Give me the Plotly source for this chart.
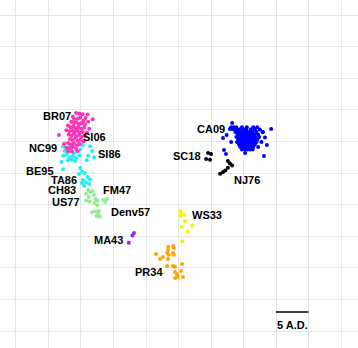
import plotly.graph_objects as go

# Antigenic map coordinates (1 grid unit)
magenta_x = [1.85,1.95,2.05,2.20,2.36,2.14,1.75,1.80,1.90,1.98,2.08,1.70,1.78,1.86,1.94,2.02,2.12,2.22,
             1.60,1.68,1.76,1.84,1.92,2.00,2.10,2.25,1.55,1.65,1.73,1.81,1.89,1.97,2.05,2.18,
             1.32,1.62,1.70,1.78,1.86,1.94,2.02,2.12,1.66,1.74,1.82,1.90,1.98,2.08,
             1.48,1.60,1.70,1.78,1.88,1.96,1.55,1.65,1.75,1.85,1.60,1.72,1.90]
magenta_y = [6.90,6.88,6.86,6.85,6.70,6.74,6.78,6.70,6.72,6.76,6.66,6.62,6.58,6.60,6.55,6.58,6.54,6.62,
             6.50,6.45,6.48,6.42,6.46,6.40,6.44,6.40,6.35,6.32,6.36,6.30,6.34,6.28,6.30,6.28,
             6.20,6.22,6.18,6.24,6.16,6.20,6.14,6.18,6.08,6.04,6.10,6.02,6.06,6.00,
             5.92,5.95,5.90,5.94,5.88,5.92,5.80,5.78,5.82,5.76,5.70,5.68,5.70]

cyan_x = [1.45,1.55,1.65,1.80,1.95,2.05,1.50,1.60,1.70,1.78,1.88,1.98,1.45,1.55,1.65,1.75,1.85,1.95,
          1.40,1.60,1.72,1.82,2.28,2.34,2.22,2.40,2.18,1.45,
          1.98,2.03,1.94,2.12,2.20,2.28,2.06,2.15,2.03,2.10,2.25]
cyan_y = [5.85,5.80,5.86,5.90,5.92,5.88,5.70,5.65,5.72,5.62,5.68,5.74,5.55,5.58,5.50,5.54,5.48,5.56,
          5.35,5.40,5.42,5.38,5.85,5.70,5.55,5.50,5.40,5.12,
          5.16,5.04,4.97,5.00,4.87,4.80,4.78,4.70,4.68,4.60,4.65]

green_x = [2.22,2.28,2.35,2.16,2.24,2.40,2.16,2.26,2.45,2.52,2.42,2.50,2.68,2.80,2.74,2.34,2.44,2.52,2.48,2.58,2.55]
green_y = [4.46,4.40,4.43,4.34,4.24,4.30,4.13,4.10,4.18,4.12,4.05,3.98,4.15,4.18,4.08,3.76,3.78,3.72,3.64,3.62,3.80]

purple_x = [3.63,3.58,3.47]
purple_y = [3.10,3.02,2.79]

orange_x = [4.68,4.83,4.86,4.68,4.65,4.83,4.86,4.70,4.31,4.52,4.43,4.68,4.65,4.83,4.89,5.11,5.08,4.89,4.95,5.14,4.98,4.90]
orange_y = [2.66,2.69,2.62,2.56,2.47,2.47,2.41,2.41,2.44,2.34,2.28,2.28,2.06,2.06,2.03,2.12,1.90,1.87,1.80,1.71,1.71,1.68]

yellow_x = [5.05,5.08,5.06,5.18,5.20,5.10,5.42,5.28,5.12]
yellow_y = [3.80,3.72,3.65,3.66,3.48,3.30,3.34,3.14,2.84]

black_x = [5.91,6.00,5.85,5.97,6.52,6.58,6.65,6.52,6.44,6.37,6.28]
black_y = [5.63,5.60,5.44,5.42,5.38,5.30,5.24,5.17,5.08,5.03,4.98]

blue_rows = {
    6.45: [6.62,6.70,6.78,6.95,7.10,7.30,7.42],
    6.38: [6.80,6.88,7.00,7.08,7.22,7.35,7.50],
    6.30: [6.75,6.85,6.93,7.03,7.12,7.20,7.28,7.40,7.58],
    6.22: [6.82,6.90,6.98,7.06,7.15,7.25,7.33,7.45],
    6.14: [6.78,6.86,6.95,7.02,7.10,7.18,7.27,7.36,7.48],
    6.06: [6.84,6.92,7.00,7.08,7.16,7.24,7.32,7.42],
    5.98: [6.80,6.88,6.97,7.05,7.13,7.21,7.30,7.40,7.55],
    5.90: [6.86,6.94,7.02,7.10,7.18,7.26,7.35],
    5.82: [6.90,6.98,7.06,7.14,7.22,7.30,7.45],
    5.74: [6.95,7.04,7.12,7.20,7.28],
}
blue_extra_x = [6.65,7.85,6.37,6.48,6.40,6.46,6.62,7.72,7.63,7.05,7.66,7.60,6.58,6.66,6.72]
blue_extra_y = [6.58,6.39,6.11,6.20,5.73,5.60,5.98,5.89,5.54,5.63,6.12,6.30,6.39,6.39,6.39]
blue_x = [x for y, xs in blue_rows.items() for x in xs] + blue_extra_x
blue_y = [y for y, xs in blue_rows.items() for x in xs] + blue_extra_y

# Strain labels: name, x, y, anchor
label_names = ["BR07","SI06","NC99","SI86","BE95","TA86","CH83","FM47","US77","Denv57",
               "MA43","PR34","WS33","SC18","NJ76","CA09"]
label_x = [1.72,2.03,1.29,2.49,1.20,1.91,1.88,2.65,2.00,2.89,3.32,4.55,5.38,5.72,6.68,6.46]
label_y = [6.80,6.14,5.79,5.60,5.06,4.78,4.46,4.46,4.08,3.77,2.88,1.87,3.67,5.54,4.78,6.39]
label_anchor = ["right","left","right","left","right","right","right","left","right","left",
                "right","right","left","right","left","right"]

scale_x0, scale_x1, scale_y = 8.0, 9.0, 0.60
scale_label = "5 A.D."

fig = go.Figure()
series = [
    (cyan_x, cyan_y, "#22EEF2"),
    (magenta_x, magenta_y, "#FF33B4"),
    (green_x, green_y, "#90EE90"),
    (purple_x, purple_y, "#A020F0"),
    (orange_x, orange_y, "#FFA500"),
    (yellow_x, yellow_y, "#F5F500"),
    (black_x, black_y, "#000000"),
    (blue_x, blue_y, "#0000FF"),
]
for xs, ys, col in series:
    fig.add_trace(go.Scatter(x=xs, y=ys, mode="markers",
                             marker=dict(size=4, color=col, line=dict(width=0)),
                             showlegend=False, hoverinfo="skip"))

label_font = dict(family="Liberation Sans, Arial", size=11, color="black", weight="bold")
for n, x, y, a in zip(label_names, label_x, label_y, label_anchor):
    fig.add_annotation(x=x, y=y, text=n, showarrow=False, xanchor=a, yanchor="middle",
                       borderpad=0, font=label_font)

fig.add_shape(type="line", x0=scale_x0, x1=scale_x1, y0=scale_y, y1=scale_y,
              line=dict(color="black", width=1.5))
fig.add_annotation(x=(scale_x0 + scale_x1) / 2, y=scale_y, yshift=-13, text=scale_label,
                   showarrow=False, xanchor="center", yanchor="middle", font=label_font)

axis_common = dict(showgrid=True, gridcolor="#E6E6E6", gridwidth=1, dtick=1, tick0=0,
                   showticklabels=False, ticks="", zeroline=False,
                   showline=True, linecolor="#E6E6E6", mirror=True)
fig.update_xaxes(range=[-0.492, 10.523], **axis_common)
fig.update_yaxes(range=[-0.538, 10.475], **axis_common)
fig.update_layout(width=358, height=348, margin=dict(l=0, r=0, t=0, b=0),
                  plot_bgcolor="white", paper_bgcolor="white", hovermode=False)
fig.write_html("out.html", config={"displayModeBar": False, "staticPlot": True},
               post_script="document.body.style.margin='0px';document.body.style.padding='0px';")
